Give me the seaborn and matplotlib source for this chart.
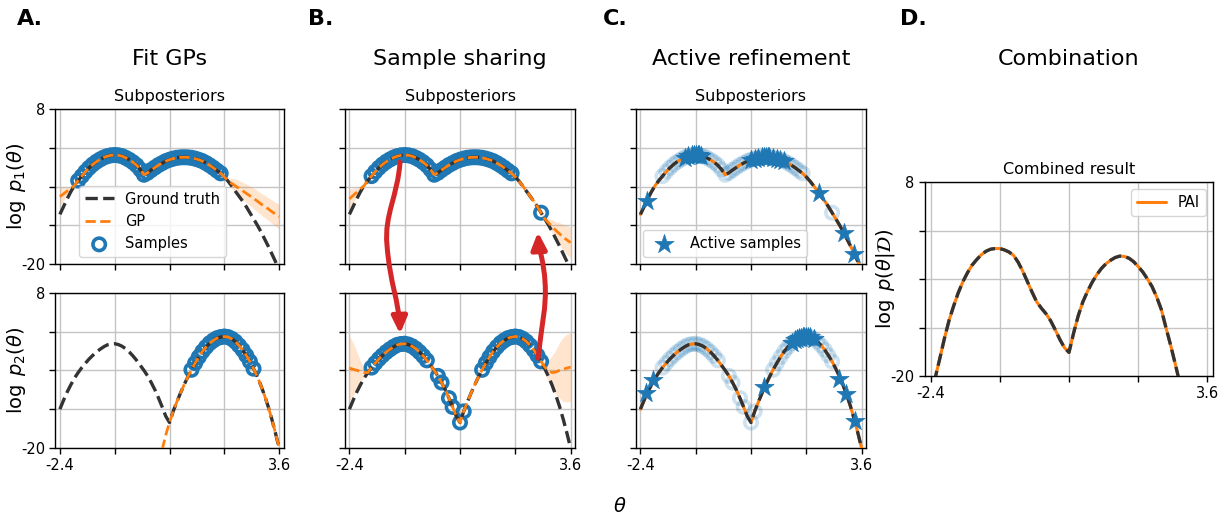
import numpy as np
import matplotlib.pyplot as plt
import seaborn as sns
from matplotlib.path import Path
from matplotlib.patches import FancyArrowPatch

# theta grid the curves were read on
THETA = [-2.4, -2.3, -2.2, -2.1, -2.0, -1.9, -1.8, -1.7, -1.6, -1.5,
         -1.4, -1.3, -1.2, -1.1, -1.0, -0.9, -0.8, -0.7, -0.6, -0.5,
         -0.4, -0.3, -0.2, -0.1, 0.0, 0.1, 0.2, 0.3, 0.4, 0.5,
         0.6, 0.7, 0.8, 0.9, 1.0, 1.1, 1.2, 1.3, 1.4, 1.5,
         1.6, 1.7, 1.8, 1.9, 2.0, 2.1, 2.2, 2.3, 2.4, 2.5,
         2.6, 2.7, 2.8, 2.9, 3.0, 3.1, 3.2, 3.3, 3.4, 3.5, 3.6]

# ground truth log p1
P1 = [-11.0, -9.6, -8.2, -6.9, -5.8, -4.9, -4.1, -3.3, -2.6, -2.0,
      -1.5, -1.1, -0.75, -0.5, -0.35, -0.3, -0.35, -0.5, -0.8, -1.15,
      -1.6, -2.15, -2.9, -3.85, -3.5, -3.0, -2.55, -2.1, -1.75, -1.4,
      -1.15, -0.95, -0.8, -0.72, -0.7, -0.72, -0.8, -0.95, -1.15, -1.4,
      -1.75, -2.15, -2.6, -3.1, -3.6, -4.25, -5.0, -5.85, -6.8, -7.7,
      -8.6, -9.6, -10.7, -11.8, -12.9, -14.1, -15.4, -16.7, -18.1, -19.5, -21.0]

# ground truth log p2
P2 = [-13.0, -11.4, -9.9, -8.6, -7.4, -6.4, -5.5, -4.7, -3.95, -3.3,
      -2.7, -2.2, -1.75, -1.4, -1.25, -1.2, -1.35, -1.65, -2.1, -2.7,
      -3.4, -4.2, -5.1, -6.0, -7.0, -8.2, -9.5, -11.0, -12.6, -14.3,
      -15.4, -13.4, -11.7, -10.1, -8.6, -7.2, -5.9, -4.7, -3.6, -2.6,
      -1.8, -1.1, -0.6, -0.2, 0.0, 0.1, 0.0, -0.3, -0.8, -1.5,
      -2.3, -3.3, -4.4, -5.7, -7.1, -8.7, -10.5, -12.5, -14.8, -17.3, -20.0]

# GP fits, panel A
GP_A1 = [-7.8, -7.3, -6.8, -6.3, -5.8,
         -4.9, -4.1, -3.3, -2.6, -2.0, -1.5, -1.1, -0.75, -0.5, -0.35,
         -0.3, -0.35, -0.5, -0.8, -1.15, -1.6, -2.15, -2.9, -3.85, -3.5,
         -3.0, -2.55, -2.1, -1.75, -1.4, -1.15, -0.95, -0.8, -0.72, -0.7,
         -0.72, -0.8, -0.95, -1.15, -1.4, -1.75, -2.15, -2.6, -3.1, -3.6, -4.25,
         -4.9, -5.4, -5.85, -6.3, -6.75, -7.2, -7.65, -8.1, -8.6, -9.1,
         -9.55, -10.0, -10.5, -10.95, -11.4]
SD_A1 = [1.7, 1.2, 0.7, 0.35, 0.15,
         0.1, 0.1, 0.1, 0.1, 0.1, 0.1, 0.1, 0.1, 0.1, 0.1,
         0.1, 0.1, 0.1, 0.1, 0.1, 0.1, 0.1, 0.1, 0.1, 0.1,
         0.1, 0.1, 0.1, 0.1, 0.1, 0.1, 0.1, 0.1, 0.1, 0.1,
         0.1, 0.1, 0.1, 0.1, 0.1, 0.1, 0.1, 0.1, 0.1,
         0.15, 0.25,
         0.5, 0.9, 1.2, 1.4, 1.55, 1.65, 1.75, 1.85, 1.9, 1.95,
         2.0, 2.05, 2.1, 2.15, 2.2]
GP_A2 = [-20.3, -17.6, -15.4,
         -13.4, -11.7, -10.1, -8.6, -7.2, -5.9, -4.7, -3.6, -2.6, -1.8,
         -1.1, -0.6, -0.2, 0.0, 0.1, 0.0, -0.3, -0.8, -1.5, -2.3,
         -3.3, -4.4, -5.7, -7.1, -8.7, -10.5, -12.5, -14.8, -17.3, -20.0]

# GP fits, panel B
GP_B1 = [-8.2, -7.6, -7.0, -6.4,
         -5.8, -4.9, -4.1, -3.3, -2.6, -2.0, -1.5, -1.1, -0.75, -0.5,
         -0.35, -0.3, -0.35, -0.5, -0.8, -1.15, -1.6, -2.15, -2.9, -3.85,
         -3.5, -3.0, -2.55, -2.1, -1.75, -1.4, -1.15, -0.95, -0.8, -0.72,
         -0.7, -0.72, -0.8, -0.95, -1.15, -1.4, -1.75, -2.15, -2.6, -3.1,
         -3.6, -4.25, -5.0, -5.85, -6.8, -7.7, -8.6, -9.6, -10.7, -11.8,
         -12.5, -13.2, -13.9, -14.5, -15.1, -15.6, -16.1]
SD_B1 = [1.8, 1.3, 0.8, 0.4, 0.15,
         0.1, 0.1, 0.1, 0.1, 0.1, 0.1, 0.1, 0.1, 0.1, 0.1,
         0.1, 0.1, 0.1, 0.1, 0.1, 0.1, 0.1, 0.1, 0.1, 0.1,
         0.1, 0.1, 0.1, 0.1, 0.1, 0.1, 0.1, 0.1, 0.1, 0.1,
         0.1, 0.1, 0.1, 0.1, 0.1, 0.1, 0.1, 0.1, 0.1, 0.1,
         0.2, 0.35, 0.5, 0.6, 0.6, 0.5, 0.35, 0.2, 0.4, 0.8,
         1.2, 1.6, 2.0, 2.3, 2.6, 2.8]
GP_B2 = [-5.6, -5.8, -6.0, -6.2, -6.4,
         -6.4, -5.5, -4.7, -3.95, -3.3, -2.7, -2.2, -1.75, -1.4, -1.25,
         -1.2, -1.35, -1.65, -2.1, -2.7, -3.4, -4.2, -5.1, -6.0, -7.0,
         -8.2, -9.5, -11.0, -12.6, -14.3, -15.4, -13.4, -11.7, -10.1, -8.6,
         -7.2, -5.9, -4.7, -3.6, -2.6, -1.8, -1.1, -0.6, -0.2, 0.0,
         0.1, 0.0, -0.3, -0.8, -1.5, -2.3, -3.3, -4.4,
         -5.4, -6.1, -6.4, -6.3, -6.0, -5.8, -5.6, -5.4]
SD_B2 = [5.8, 4.8, 3.4, 1.9, 0.8, 0.3,
         0.1, 0.1, 0.1, 0.1, 0.1, 0.1, 0.1, 0.1, 0.1, 0.1,
         0.1, 0.1, 0.1, 0.1, 0.1, 0.1, 0.1, 0.1, 0.1, 0.1,
         0.1, 0.1, 0.1, 0.1, 0.1, 0.1, 0.1, 0.1, 0.1, 0.1,
         0.1, 0.1, 0.1, 0.1, 0.1, 0.1, 0.1, 0.1, 0.1, 0.1,
         0.1, 0.1, 0.1, 0.1, 0.1, 0.1,
         0.3, 1.0, 2.0, 3.0, 4.0, 5.0, 5.8, 6.1, 6.2]

# which grid points were sampled
IDX_A1 = list(range(5, 45))
IDX_A2 = list(range(36, 54))
IDX_B1 = list(range(6, 45)) + [52]
IDX_B2 = list(range(6, 22)) + [24, 25, 27, 28, 30, 31] + list(range(36, 53))

# active samples, panel C
STAR1_X = [-2.22, -1.2, -1.1, -1.0, -0.95, -0.9, -0.85, -0.8, -0.75, 0.6, 0.7, 0.8,
           0.9, 0.95, 1.0, 1.05, 1.1, 1.2, 1.3, 1.4, 1.5, 2.45, 3.13, 3.4]
STAR1_Y = [-8.6, -0.75, -0.5, -0.35, -0.3, -0.3, -0.3, -0.35, -0.4, -1.15, -0.95, -0.8,
           -0.72, -0.7, -0.7, -0.7, -0.72, -0.8, -0.95, -1.15, -1.4, -7.2, -14.4, -18.2]
STAR2_X = [-2.25, -2.06, 0.96, 1.7, 1.8, 1.85, 1.9, 1.95, 2.0, 2.05, 2.1, 2.15, 2.2, 2.3,
           2.99, 3.17, 3.42]
STAR2_Y = [-10.1, -7.8, -9.0, -1.1, -0.6, -0.4, -0.2, -0.1, 0.0, 0.05, 0.1, 0.05, 0.0, -0.3,
           -7.5, -10.2, -15.1]

# combined posterior, panel D (theta -2.4 .. 3.1)
COMB = [-23.5, -20.3, -17.5, -14.6, -12.0, -9.9, -8.0, -6.4, -5.1, -4.0,
        -3.2, -2.5, -2.0, -1.7, -1.6, -1.6, -1.8, -2.1, -2.6, -3.6,
        -4.9, -6.4, -7.9, -9.3, -10.2, -11.0, -12.0, -13.3, -14.7, -15.9,
        -16.6, -13.8, -11.3, -9.3, -7.8, -6.5, -5.4, -4.5, -3.8, -3.3,
        -2.9, -2.7, -2.75, -3.0, -3.5, -4.2, -5.0, -6.0, -7.1, -8.6,
        -10.4, -13.0, -15.5, -18.2, -21.0, -24.0]

XTICKS = [-2.4, -0.9, 0.6, 2.1, 3.6]
YTICKS = [-20, -13, -6, 1, 8]

BLUE = '#1f77b4'
ORANGE = '#ff7f0e'
GT = '#333333'
RED = '#d62728'

sns.set_style("ticks")
plt.rcParams['font.family'] = ['DejaVu Sans']
plt.rcParams['mathtext.fontset'] = 'dejavusans'
for k in ['text.color', 'axes.labelcolor', 'xtick.color', 'ytick.color']:
    plt.rcParams[k] = 'black'

W, H = 1223, 516
fig = plt.figure(figsize=(W / 100, H / 100), dpi=100)


def box(l, t, r, b):
    return [l / W, 1 - b / H, (r - l) / W, (b - t) / H]


def style(ax, xlab, ylab):
    ax.set_xlim(-2.52, 3.72)
    ax.set_ylim(-20, 8)
    ax.set_xticks(XTICKS)
    ax.set_yticks(YTICKS)
    ax.set_xticklabels(['-2.4', '', '', '', '3.6'] if xlab else [''] * 5)
    ax.set_yticklabels(['-20', '', '', '', '8'] if ylab else [''] * 5)
    ax.tick_params(labelsize=10.5, length=4, width=1, color='k', labelcolor='k')
    ax.grid(True, color='#c4c4c4', lw=1)
    ax.set_axisbelow(True)
    for s in ax.spines.values():
        s.set_color('k')
        s.set_linewidth(1)


def truth(ax, y, x=THETA, label=None):
    sns.lineplot(x=x, y=y, ax=ax, color=GT, linestyle='--', linewidth=2.4,
                 zorder=4, label=label)


def gp(ax, y, sd=None, x=THETA, label=None):
    if sd is not None:
        lo = np.array(y) - np.array(sd)
        hi = np.array(y) + np.array(sd)
        ax.fill_between(x, lo, hi, color=ORANGE, alpha=0.2, lw=0, zorder=1)
    sns.lineplot(x=x, y=y, ax=ax, color=ORANGE, linestyle='--', linewidth=2,
                 zorder=5, label=label)


def samples(ax, curve, idx, alpha=1.0, label=None):
    sns.scatterplot(x=[THETA[i] for i in idx], y=[curve[i] for i in idx], ax=ax,
                    marker='o', s=80, facecolors='none', edgecolor=BLUE,
                    linewidth=2.6, alpha=alpha, zorder=2, label=label)


ax_a1 = fig.add_axes(box(55.5, 109, 283.5, 264.3))
ax_a2 = fig.add_axes(box(55.5, 292.7, 283.5, 448))
ax_b1 = fig.add_axes(box(345, 109, 575, 264.3))
ax_b2 = fig.add_axes(box(345, 292.7, 575, 448))
ax_c1 = fig.add_axes(box(636, 109, 866, 264.3))
ax_c2 = fig.add_axes(box(636, 292.7, 866, 448))
ax_d = fig.add_axes(box(925, 182, 1213, 376))

# A. fit GPs
samples(ax_a1, P1, IDX_A1, label='Samples')
truth(ax_a1, P1, label='Ground truth')
gp(ax_a1, GP_A1, SD_A1, label='GP')
samples(ax_a2, P2, IDX_A2)
truth(ax_a2, P2)
gp(ax_a2, GP_A2, x=THETA[28:])

# B. sample sharing
samples(ax_b1, P1, IDX_B1)
truth(ax_b1, P1)
gp(ax_b1, GP_B1, SD_B1)
samples(ax_b2, P2, IDX_B2)
truth(ax_b2, P2)
gp(ax_b2, GP_B2, SD_B2)

# C. active refinement
for ax, curve, idx, sx, sy, lab in [(ax_c1, P1, IDX_B1, STAR1_X, STAR1_Y, 'Active samples'),
                                    (ax_c2, P2, IDX_B2, STAR2_X, STAR2_Y, None)]:
    samples(ax, curve, idx, alpha=0.22)
    sns.lineplot(x=THETA, y=curve, ax=ax, color=ORANGE, linewidth=2.2, zorder=3)
    truth(ax, curve)
    sns.scatterplot(x=sx, y=sy, ax=ax, marker='*', s=210, color=BLUE,
                    edgecolor=BLUE, linewidth=0.5, zorder=6, label=lab)

# D. combination
sns.lineplot(x=THETA[:56], y=COMB, ax=ax_d, color=ORANGE, linewidth=2.2, zorder=3, label='PAI')
truth(ax_d, COMB, x=THETA[:56])

style(ax_a1, False, True)
style(ax_a2, True, True)
style(ax_b1, False, False)
style(ax_b2, True, False)
style(ax_c1, False, False)
style(ax_c2, True, False)
style(ax_d, True, True)

ax_a1.set_ylabel(r'$\log\;p_1(\theta)$', fontsize=14, labelpad=-5)
ax_a2.set_ylabel(r'$\log\;p_2(\theta)$', fontsize=14, labelpad=-5)
ax_d.set_ylabel(r'$\log\;p(\theta|\mathcal{D})$', fontsize=14, labelpad=-5)

for ax in [ax_a1, ax_b1, ax_c1]:
    ax.set_title('Subposteriors', fontsize=11.5, pad=6)
ax_d.set_title('Combined result', fontsize=11.5, pad=6)

h, l = ax_a1.get_legend_handles_labels()
order = [l.index('Ground truth'), l.index('GP'), l.index('Samples')]
ax_a1.legend([h[i] for i in order], [l[i] for i in order], loc='lower left',
             bbox_to_anchor=(0.07, 0.0), fontsize=10.5, framealpha=0.8)
for ax in [ax_a2, ax_b1, ax_b2, ax_c2]:
    if ax.get_legend() is not None:
        ax.get_legend().remove()
ax_c1.legend(loc='lower left', fontsize=10.5, framealpha=0.8)
ax_d.legend(loc='upper right', fontsize=10.5, framealpha=0.8)

# column headings and panel letters
for x, t in [(169.5, 'Fit GPs'), (460, 'Sample sharing'), (751, 'Active refinement'),
             (1069, 'Combination')]:
    fig.text(x / W, 1 - 59 / H, t, ha='center', va='center', fontsize=16)
for x, t in [(17, 'A.'), (308, 'B.'), (603, 'C.'), (900, 'D.')]:
    fig.text(x / W, 1 - 19 / H, t, ha='left', va='center', fontsize=16, fontweight='bold')
fig.text(620 / W, 1 - 507 / H, r'$\theta$', ha='center', va='center', fontsize=14)

# red arrows between the subposteriors
codes = [Path.MOVETO] + [Path.CURVE4] * 6
for pts in [[(400, 162), (398, 195), (384, 215), (387, 245), (390, 285), (399, 300), (400, 334)],
            [(538, 358), (541, 330), (547, 305), (545, 282), (544, 262), (539, 250), (538, 232)]]:
    verts = [(px / W, 1 - py / H) for px, py in pts]
    arr = FancyArrowPatch(path=Path(verts, codes), arrowstyle='-|>,head_length=0.55,head_width=0.25',
                          mutation_scale=18, lw=3.6, color=RED, transform=fig.transFigure,
                          zorder=10)
    fig.add_artist(arr)

fig.savefig('out.png', dpi=100)
